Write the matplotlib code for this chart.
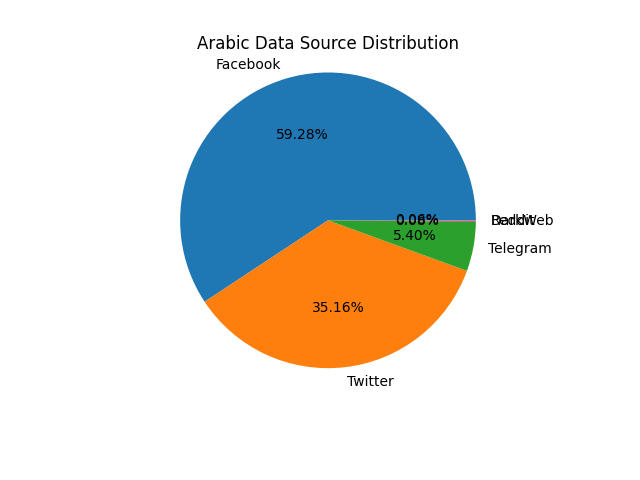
import matplotlib
matplotlib.use("Agg")
import matplotlib.pyplot as plt

labels = ["Facebook", "Twitter", "Telegram", "Reddit", "DarkWeb"]
values = [59.284, 35.164, 5.404, 0.084, 0.064]

fig = plt.figure(figsize=(6.4, 4.8), dpi=100)
ax = fig.add_axes([0.125, 0.156, 0.775, 0.77])
ax.pie(values, labels=labels, autopct="%1.2f%%")
fig.text(0.5125, 0.897, "Arabic Data Source Distribution",
         ha="center", va="baseline", fontsize=12)
fig.savefig("out.png")
